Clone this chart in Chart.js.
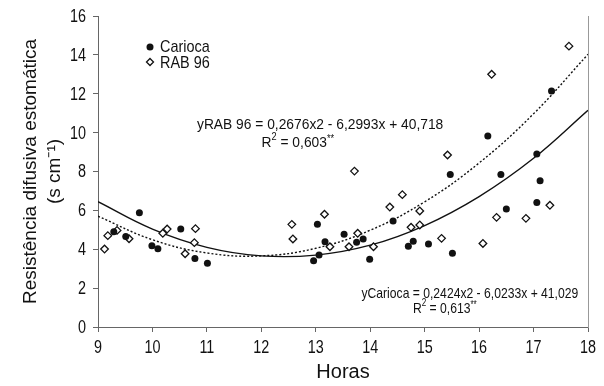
<!DOCTYPE html>
<html>
<head>
<meta charset="utf-8">
<script src="https://cdn.jsdelivr.net/npm/chart.js@4"></script>
<style>
  html, body { margin: 0; padding: 0; background: #fff; }
  #wrap { width: 604px; height: 386px; position: relative; }
</style>
</head>
<body>
<div id="wrap"><canvas id="chart"></canvas></div>
<script>
// Carioca (filled circles)
const cariocaX = [9.29, 9.51, 9.76, 9.99, 10.10, 10.52, 10.78, 11.01,
    12.96, 13.03, 13.06, 13.17, 13.52, 13.75, 13.87, 13.99, 14.42,
    14.70, 14.79, 15.07, 15.47, 15.51, 16.16, 16.40, 16.50, 17.06, 17.06, 17.12, 17.33];
const cariocaY = [4.90, 4.65, 5.88, 4.18, 4.03, 5.04, 3.53, 3.28,
    3.41, 5.28, 3.70, 4.39, 4.77, 4.36, 4.53, 3.48, 5.45,
    4.15, 4.41, 4.27, 7.85, 3.79, 9.83, 7.85, 6.07, 6.41, 8.90, 7.53, 12.14];

// RAB 96 (open diamonds)
const rabX = [9.12, 9.18, 9.35, 9.57, 10.19, 10.27, 10.60, 10.77, 10.79,
    12.56, 12.58, 13.16, 13.26, 13.61, 13.71, 13.77, 14.06, 14.36,
    14.59, 14.75, 14.91, 14.91, 15.31, 15.42, 16.07, 16.23, 16.32, 16.86, 17.30, 17.65];
const rabY = [4.01, 4.70, 4.97, 4.54, 4.82, 5.04, 3.77, 4.34, 5.06,
    5.28, 4.53, 5.80, 4.13, 4.13, 8.02, 4.82, 4.13, 6.17,
    6.81, 5.13, 5.97, 5.25, 4.56, 8.85, 4.30, 13.00, 5.64, 5.59, 6.26, 14.45];

// trend curves at each hour
const trendHours = [9, 10, 11, 12, 13, 14, 15, 16, 17, 18];
const cariocaTrend = [6.45, 5.04, 4.10, 3.66, 3.70, 4.21, 5.22, 6.71, 8.68, 11.15];
const rabTrend = [5.70, 4.49, 3.81, 3.66, 4.05, 4.98, 6.44, 8.44, 10.97, 14.03];

const xTicks = [9, 10, 11, 12, 13, 14, 15, 16, 17, 18];
const yTicks = [0, 2, 4, 6, 8, 10, 12, 14, 16];

const plain = "'Liberation Sans', Arial, sans-serif";
const axisColor = '#666';
const ink = '#111';

const zip = (xs, ys) => xs.map((x, i) => ({ x: x, y: ys[i] }));

// the original uses a condensed face; squeeze Liberation Sans horizontally
function narrowText(ctx, text, x, y, size, squeeze, align) {
    ctx.save();
    ctx.translate(x, y);
    ctx.scale(squeeze, 1);
    ctx.font = size + 'px ' + plain;
    ctx.textAlign = align || 'left';
    ctx.fillText(text, 0, 0);
    const w = ctx.measureText(text).width * squeeze;
    ctx.restore();
    return w;
}

// tick labels, legend and equations
const notes = {
    id: 'notes',
    afterDraw(chart) {
        const ctx = chart.ctx;
        const xs = chart.scales.x, ys = chart.scales.y;
        ctx.save();
        ctx.fillStyle = ink;
        ctx.strokeStyle = ink;
        ctx.textBaseline = 'middle';

        // tick labels
        xs.ticks.forEach(t => narrowText(ctx, String(t.value), xs.getPixelForValue(t.value), ys.bottom + 21, 18, 0.8, 'center'));
        ys.ticks.forEach(t => narrowText(ctx, String(t.value), xs.left - 12, ys.getPixelForValue(t.value) + 1, 18, 0.8, 'right'));

        // legend
        ctx.beginPath();
        ctx.arc(150, 47, 3.5, 0, Math.PI * 2);
        ctx.fill();
        narrowText(ctx, chart.data.datasets[0].label, 160, 47, 17, 0.85);
        ctx.lineWidth = 1.3;
        ctx.beginPath();
        ctx.moveTo(150, 58.5); ctx.lineTo(153.5, 62); ctx.lineTo(150, 65.5); ctx.lineTo(146.5, 62);
        ctx.closePath();
        ctx.stroke();
        narrowText(ctx, chart.data.datasets[1].label, 160, 63, 17, 0.85);

        // equations
        function eq(text, cx, cy, sq) {
            narrowText(ctx, text, xs.getPixelForValue(cx), ys.getPixelForValue(cy), 15, sq, 'center');
        }
        function r2(val, cx, cy, sq) {
            const px = xs.getPixelForValue(cx), py = ys.getPixelForValue(cy);
            ctx.font = '15px ' + plain;
            const wR = ctx.measureText('R').width * sq;
            const wV = ctx.measureText(' = ' + val).width * sq;
            ctx.font = '10px ' + plain;
            const w2 = ctx.measureText('2').width * sq;
            const wS = ctx.measureText('**').width * sq;
            let x = px - (wR + w2 + wV + wS) / 2;
            x += narrowText(ctx, 'R', x, py, 15, sq);
            x += narrowText(ctx, '2', x, py - 6, 10, sq);
            x += narrowText(ctx, ' = ' + val, x, py, 15, sq);
            narrowText(ctx, '**', x, py - 4, 10, sq);
        }
        eq('yRAB 96 = 0,2676x2 - 6,2993x + 40,718', 13.08, 10.4, 0.92);
        r2('0,603', 12.67, 9.47, 0.92);
        eq('yCarioca = 0,2424x2 - 6,0233x + 41,029', 15.83, 1.7, 0.81);
        r2('0,613', 15.37, 0.93, 0.81);
        ctx.restore();
    }
};

new Chart(document.getElementById('chart'), {
    type: 'scatter',
    data: {
        datasets: [
            {
                label: 'Carioca',
                data: zip(cariocaX, cariocaY),
                pointStyle: 'circle',
                pointRadius: 3.5,
                backgroundColor: ink,
                borderColor: ink,
                borderWidth: 0
            },
            {
                label: 'RAB 96',
                data: zip(rabX, rabY),
                pointStyle: 'rectRot',
                pointRadius: 3.8,
                backgroundColor: '#fff',
                borderColor: ink,
                borderWidth: 1.3
            },
            {
                label: 'Carioca trend',
                type: 'line',
                data: zip(trendHours, cariocaTrend),
                borderColor: ink,
                borderWidth: 1.4,
                pointRadius: 0,
                tension: 0.4,
                fill: false
            },
            {
                label: 'RAB 96 trend',
                type: 'line',
                data: zip(trendHours, rabTrend),
                borderColor: ink,
                borderWidth: 1.4,
                borderDash: [2, 2],
                pointRadius: 0,
                tension: 0.4,
                fill: false
            }
        ]
    },
    options: {
        responsive: true,
        maintainAspectRatio: false,
        animation: false,
        layout: { padding: { top: 16, right: 16, left: 0, bottom: 0 } },
        plugins: { legend: { display: false }, tooltip: { enabled: false } },
        scales: {
            x: {
                type: 'linear',
                min: 9,
                max: 18,
                afterBuildTicks: (axis) => { axis.ticks = xTicks.map(v => ({ value: v })); },
                afterFit: (axis) => { axis.height = 59; },
                grid: { display: true, drawOnChartArea: false, drawTicks: true, tickLength: 5, color: axisColor },
                border: { display: true, color: axisColor, width: 1 },
                ticks: { display: false },
                title: { display: true, text: 'Horas', color: ink, font: { family: plain, size: 20 }, padding: { top: 0, bottom: 2 } }
            },
            y: {
                min: 0,
                max: 16,
                afterBuildTicks: (axis) => { axis.ticks = yTicks.map(v => ({ value: v })); },
                afterFit: (axis) => { axis.width = 98; },
                grid: { display: true, drawOnChartArea: false, drawTicks: true, tickLength: 5, color: axisColor },
                border: { display: true, color: axisColor, width: 1 },
                ticks: { display: false },
                title: {
                    display: true,
                    text: ['Resistência difusiva estomática', '(s cm\u207B\u00B9)'],
                    color: ink,
                    font: { family: plain, size: 19, lineHeight: 1.3 },
                    padding: { top: 18, bottom: 0 }
                }
            },
            y2: {
                position: 'right',
                min: 0,
                max: 16,
                afterFit: (axis) => { axis.width = 0; },
                grid: { display: false },
                border: { display: true, color: '#999', width: 1 },
                ticks: { display: false }
            }
        }
    },
    plugins: [notes]
});
</script>
</body>
</html>
